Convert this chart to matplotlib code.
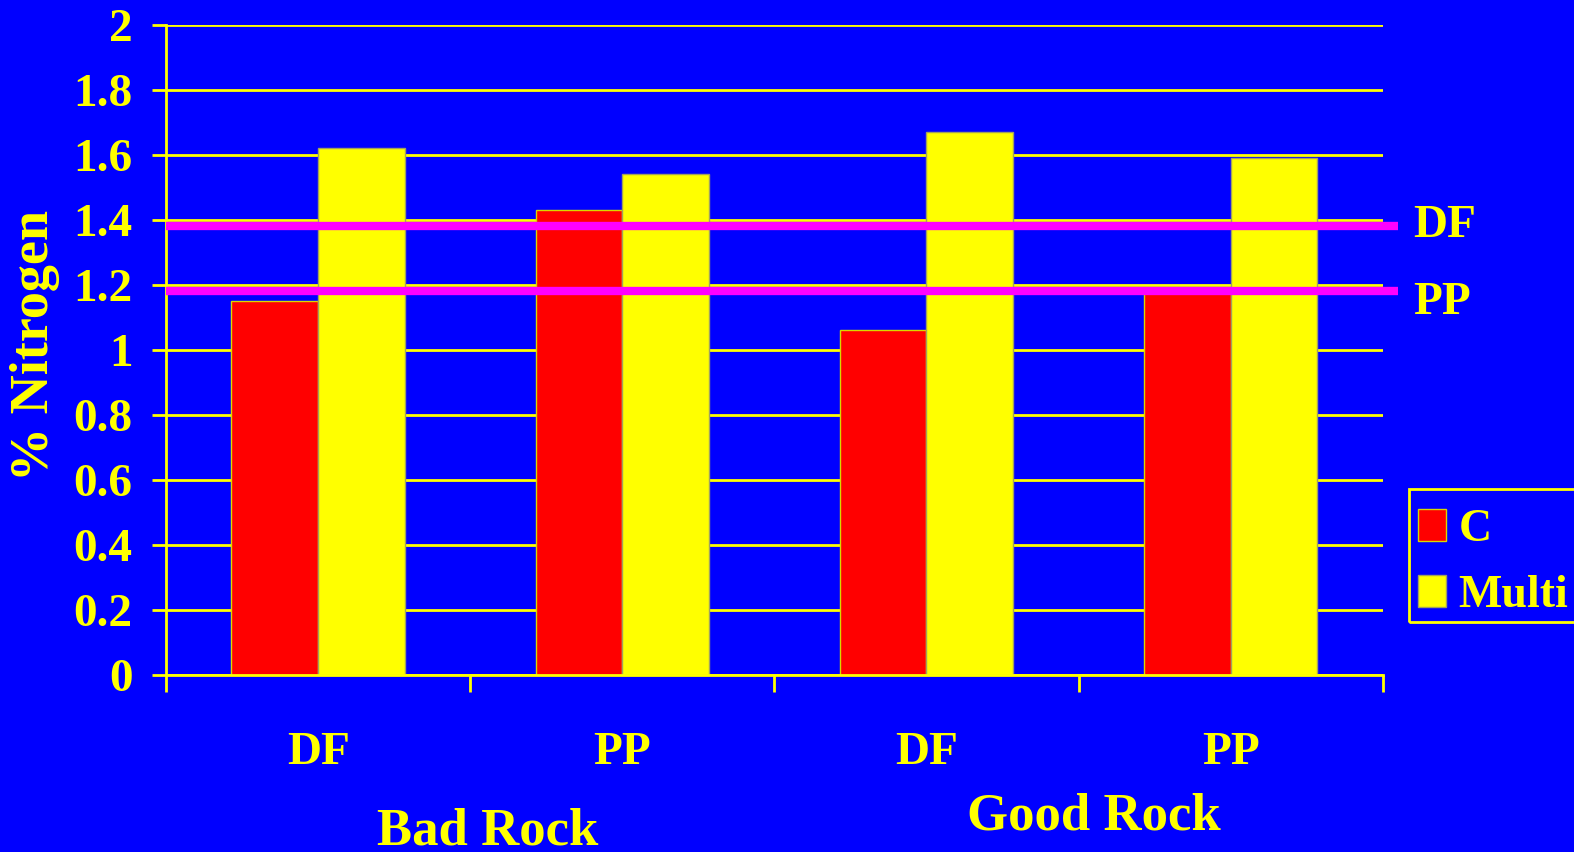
import numpy as np
import matplotlib.pyplot as plt
from matplotlib.patches import Rectangle

# % nitrogen by site, tree type and treatment
sites = ['Bad Rock', 'Good Rock']
species = ['DF', 'PP', 'DF', 'PP']
c_vals = [1.15, 1.43, 1.06, 1.18]
multi_vals = [1.62, 1.54, 1.67, 1.59]
ref_labels = ['DF', 'PP']
ref_vals = [1.38, 1.18]
y_ticks = [0, 0.2, 0.4, 0.6, 0.8, 1, 1.2, 1.4, 1.6, 1.8, 2]

BG = '#0000ff'
YEL = '#ffff00'
RED = '#ff0000'
PINK = '#ff00ff'

plt.rcParams['font.family'] = ['Liberation Serif', 'DejaVu Serif']
plt.rcParams['font.weight'] = 'bold'

W, H = 1574, 852
fig = plt.figure(figsize=(W / 100, H / 100), dpi=100, facecolor=BG)
ax = fig.add_axes([0.1055, 0.2077, 0.773, 0.763], facecolor=BG)

x = np.arange(len(species))
w = 0.285
ax.bar(x - w / 2, c_vals, w, color=RED, edgecolor='#d8d800', linewidth=1, zorder=3, label='C')
ax.bar(x + w / 2, multi_vals, w, color=YEL, edgecolor='#a0a060', linewidth=1, zorder=3, label='Multi')

ax.set_xlim(-0.5, 3.5)
ax.set_ylim(0, 2)
ax.set_yticks(y_ticks)
ax.set_yticklabels([f'{t:g}' for t in y_ticks])
ax.yaxis.grid(True, color=YEL, linewidth=2, zorder=1)
ax.tick_params(axis='y', colors=YEL, labelsize=34, length=10, width=2, pad=14)
for lab in ax.get_yticklabels():
    lab.set_fontweight('bold')

# category ticks sit between the groups
ax.set_xticks(np.arange(-0.5, 4, 1))
ax.set_xticklabels([])
ax.tick_params(axis='x', colors=YEL, length=12, width=2, direction='out')
for i, s in enumerate(species):
    ax.text(i, -0.24, s, color=YEL, fontsize=34, fontweight='bold',
            ha='center', va='center', clip_on=False)

ax.text(0.556, -0.48, sites[0], color=YEL, fontsize=38, fontweight='bold',
        ha='center', va='center', clip_on=False)
ax.text(2.55, -0.435, sites[1], color=YEL, fontsize=38, fontweight='bold',
        ha='center', va='center', clip_on=False)

for sp in ['top', 'right']:
    ax.spines[sp].set_visible(False)
for sp in ['left', 'bottom']:
    ax.spines[sp].set_color(YEL)
    ax.spines[sp].set_linewidth(2)
    ax.spines[sp].set_zorder(4)

fig.text(35 / W, 1 - 345 / H, '% Nitrogen', color=YEL, fontsize=39,
         fontweight='bold', rotation=90, ha='center', va='center')

# reference levels drawn across the whole plot and a bit past it
label_offsets = [0, -8]
for lab, v, dy in zip(ref_labels, ref_vals, label_offsets):
    ax.plot([-0.5, 3.55], [v, v], color=PINK, linewidth=6, zorder=5,
            solid_capstyle='butt', clip_on=False)
    ax.annotate(lab, (3.6, v), xytext=(0, dy), textcoords='offset points',
                color=YEL, fontsize=34, fontweight='bold',
                ha='left', va='center', annotation_clip=False)

# legend box runs off the right edge, so draw the frame by hand
fig.patches.append(Rectangle((1409 / W, 1 - 622 / H), 200 / W, 133 / H,
                             transform=fig.transFigure, facecolor='none',
                             edgecolor=YEL, linewidth=2))
leg = fig.legend(loc='upper left', bbox_to_anchor=(1418 / W, 1 - 509 / H),
                 borderaxespad=0, borderpad=0, fontsize=33, frameon=False,
                 labelcolor=YEL, handlelength=0.6, handleheight=0.68,
                 handletextpad=0.28, labelspacing=0.52)
for t in leg.get_texts():
    t.set_fontweight('bold')

fig.savefig('out.png', dpi=100, facecolor=BG)
